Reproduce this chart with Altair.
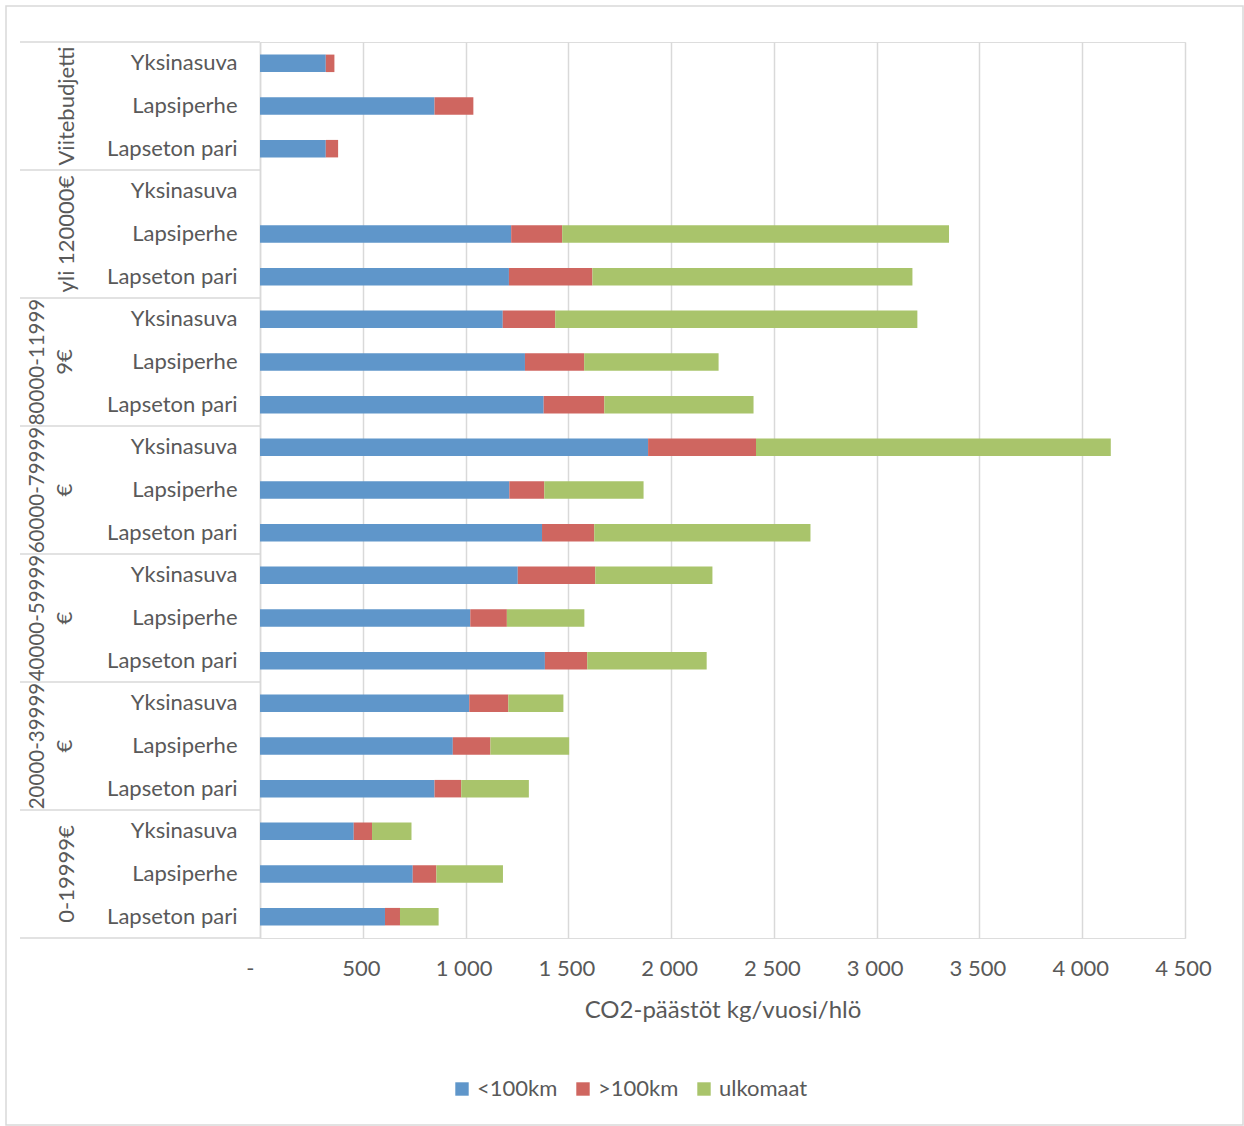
import altair as alt
import pandas as pd

# ---- data (top to bottom) ----
groups = ["Viitebudjetti", "yli 120000€", "80000-119999€", "60000-79999€",
          "40000-59999€", "20000-39999€", "0-19999€"]
group_line1 = ["Viitebudjetti", "yli 120000€", "80000-11999", "60000-79999",
               "40000-59999", "20000-39999", "0-19999€"]
group_line2 = ["", "", "9€", "€", "€", "€", ""]
households = ["Yksinasuva", "Lapsiperhe", "Lapseton pari"]
series = ["<100km", ">100km", "ulkomaat"]
colors = ["#5F96CA", "#CF6660", "#A9C46B"]

near = [320, 849, 320, 0, 1222, 1211, 1181, 1289, 1380, 1888, 1213, 1372,
        1254, 1023, 1386, 1018, 938, 849, 456, 743, 608]
far = [42, 189, 60, 0, 248, 406, 255, 288, 295, 525, 170, 254,
       377, 178, 206, 190, 183, 130, 89, 115, 73]
abroad = [0, 0, 0, 0, 1882, 1557, 1762, 654, 726, 1726, 483, 1052,
          570, 377, 581, 268, 383, 329, 192, 324, 188]
x_ticks = [0, 500, 1000, 1500, 2000, 2500, 3000, 3500, 4000, 4500]

# ---- tables ----
keys = [f"{gi}|{hh}" for gi in range(len(groups)) for hh in households]
rows = []
for i, k in enumerate(keys):
    for si, (s, vals) in enumerate(zip(series, [near, far, abroad])):
        rows.append({"key": k, "series": s, "value": vals[i], "order": si})
bars_df = pd.DataFrame(rows)

glab = pd.DataFrame({
    "key": [f"{gi}|{households[1]}" for gi in range(len(groups))],
    "line1": group_line1,
    "line2": group_line2,
})
single_df = glab[glab["line2"] == ""]
double_df = glab[glab["line2"] != ""]

top_df = pd.DataFrame({"key": [f"{gi}|{households[0]}" for gi in range(len(groups))]})
bot_df = pd.DataFrame({"key": [keys[-1]]})
frame_df = pd.DataFrame({"k": [0]})

W, H = 925, 896
STEP = H / len(keys)
FONT = "Lato"
FS = 22
TXT = "#595959"
GRID = "#D9D9D9"

yscale = alt.Scale(domain=keys, paddingInner=0.59, paddingOuter=0.295)

bars = alt.Chart(bars_df).mark_bar().encode(
    x=alt.X("value:Q", stack="zero",
            scale=alt.Scale(domain=[0, 4500], nice=False),
            axis=alt.Axis(values=x_ticks,
                          labelExpr="datum.value == 0 ? '-' : replace(format(datum.value, ','), ',', ' ')",
                          labelAlign={"expr": "datum.value == 0 ? 'right' : 'center'"},
                          labelOffset={"expr": "datum.value == 0 ? -6 : -2"},
                          labelFlush=False,
                          grid=True, gridColor=GRID, gridWidth=1.5,
                          domain=False, ticks=False,
                          labelFontSize=FS, labelColor=TXT, labelFont=FONT,
                          labelPadding=20,
                          title="CO2-päästöt kg/vuosi/hlö",
                          titleFontSize=24, titleColor=TXT, titleFont=FONT,
                          titleFontWeight="normal", titlePadding=19)),
    y=alt.Y("key:N", sort=keys, scale=yscale,
            axis=alt.Axis(labelExpr="split(datum.label, '|')[1]",
                          labelFontSize=FS, labelColor=TXT, labelFont=FONT,
                          labelPadding=23, ticks=False,
                          domainColor=GRID, domainWidth=1.5,
                          title=None, grid=False)),
    color=alt.Color("series:N",
                    scale=alt.Scale(domain=series, range=colors),
                    legend=alt.Legend(orient="none", direction="horizontal",
                                      legendX=191, legendY=1036,
                                      title=None, symbolType="square",
                                      symbolSize=180, symbolStrokeWidth=0,
                                      labelFontSize=FS, labelColor=TXT,
                                      labelFont=FONT, labelOffset=4,
                                      columnPadding=14, padding=0)),
    order=alt.Order("order:Q"),
)

single = alt.Chart(single_df).mark_text(
    angle=270, align="center", baseline="middle", fontSize=FS,
    font=FONT, color=TXT
).encode(y=alt.Y("key:N", sort=keys), x=alt.value(-193), text="line1:N")

dbl1 = alt.Chart(double_df).mark_text(
    angle=270, align="center", baseline="middle", fontSize=20.5,
    font=FONT, color=TXT
).encode(y=alt.Y("key:N", sort=keys), x=alt.value(-222), text="line1:N")

dbl2 = alt.Chart(double_df).mark_text(
    angle=270, align="center", baseline="middle", fontSize=FS,
    font=FONT, color=TXT
).encode(y=alt.Y("key:N", sort=keys), x=alt.value(-195), text="line2:N")

top_rules = alt.Chart(top_df).mark_rule(
    color=GRID, strokeWidth=1.5, yOffset=-STEP / 2
).encode(y=alt.Y("key:N", sort=keys), x=alt.value(-240), x2=alt.value(0))

bot_rules = alt.Chart(bot_df).mark_rule(
    color=GRID, strokeWidth=1.5, yOffset=STEP / 2
).encode(y=alt.Y("key:N", sort=keys), x=alt.value(-240), x2=alt.value(0))

frame = alt.Chart(frame_df).mark_rect(
    fill="transparent", stroke=GRID, strokeWidth=1.5
).encode(x=alt.value(-254), x2=alt.value(983),
         y=alt.value(-36), y2=alt.value(1083))

chart = alt.layer(frame, bars, top_rules, bot_rules, single, dbl1, dbl2).properties(
    width=W, height=H,
    padding={"left": 260, "top": 42, "right": 59, "bottom": 188},
    autosize="none",
).configure_view(stroke=None).configure(background="white")

chart.save("out.html", embed_options={"renderer": "svg", "actions": False})
